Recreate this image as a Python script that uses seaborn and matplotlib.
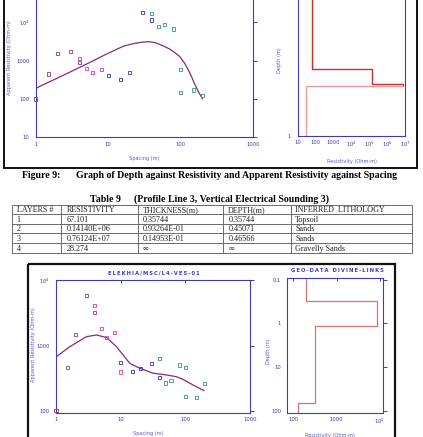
import numpy as np
import pandas as pd
import matplotlib
matplotlib.use("Agg")
import matplotlib.pyplot as plt
import seaborn as sns
from matplotlib.patches import Rectangle
from matplotlib.ticker import FixedLocator, FixedFormatter, LogLocator, NullFormatter

# ---------------- data ----------------
# Figure 9 (upper page figure): apparent resistivity vs spacing
top_spacing = [1, 1.5, 2, 3, 4, 4, 5, 6, 8, 10, 15, 20, 30, 40, 40, 50, 60, 80, 100, 100, 150, 200]
top_rho_app = [100, 450, 1500, 1700, 1150, 890, 630, 505, 605, 414, 330, 486,
               18000, 17200, 11500, 7700, 8900, 6700, 595, 150, 172, 127]
top_group = ['a', 'a', 'a', 'a', 'b', 'a', 'b', 'b', 'b', 'c', 'c', 'c',
             'c', 'd', 'c', 'd', 'd', 'd', 'd', 'd', 'd', 'd']
top_fit_spacing = [1, 2.67, 5.04, 9.49, 16.1, 22.0, 30.3, 37.3, 46.2, 57.1, 70.6, 82.6,
                   96.9, 113.5, 126, 140, 156, 173, 201]
top_fit_rho = [190, 458, 818, 1493, 2366, 2770, 3070, 3130, 2890, 2460, 2015, 1650,
               1297, 869, 606, 406, 250, 168, 100]

# Table 9 layered model
table_layers = ['1', '2', '3', '4']
table_resistivity = ['67.101', '0.14140E+06', '0.76124E+07', '28.274']
table_thickness = ['0.35744', '0.93264E-01', '0.14953E-01', '\u221e']
table_depth = ['0.35744', '0.45071', '0.46566', '\u221e']
table_lithology = ['Topsoil', 'Sands', 'Sands', 'Gravelly Sands']
model_rho = [67.101, 0.14140e6, 0.76124e7, 28.274]
model_depth = [0.35744, 0.45071, 0.46566]

# Lower page figure: ELEKHIA/MSC/L4-VES-01
bot_spacing = [1, 1.5, 2, 3, 4, 4, 5, 6, 8, 10, 10, 15, 20, 30, 40, 40, 50, 60, 80, 100, 100, 150, 200]
bot_rho_app = [100, 460, 1490, 5820, 4090, 3240, 1820, 1330, 1580, 556, 395, 400, 450, 537,
               632, 324, 268, 288, 506, 466, 168, 160, 265]
bot_group = ['a', 'a', 'a', 'a', 'b', 'a', 'b', 'b', 'b', 'c', 'b', 'c', 'c', 'c',
             'd', 'c', 'd', 'd', 'd', 'd', 'd', 'd', 'd']
bot_fit_spacing = [1, 1.64, 2.97, 4.24, 6.04, 8.6, 10.9, 13.8, 19.8, 31.8, 50.9, 72.3, 92, 131, 194]
bot_fit_rho = [671, 966, 1373, 1455, 1330, 966, 720, 537, 450, 378, 356, 335, 305, 250, 205]
bot_model_rho = [193, 8500, 317, 126]
bot_model_depth = [0.305, 1.13, 66]

# ---------------- styling ----------------
W, H = 423, 437
sns.set_theme(style="white")
plt.rcParams['font.family'] = ['DejaVu Sans']
BLUE = '#3a3ac8'
LBLUE = '#5a5ad0'
PAL = {'a': '#9a3a6a', 'b': '#e030d0', 'c': '#3030c0', 'd': '#2a9a7a'}
CURVE = '#8a2a70'
SERIF = ['Liberation Serif', 'DejaVu Serif']

fig = plt.figure(figsize=(W / 100, H / 100), dpi=100)
fig.patch.set_facecolor('white')
bg = fig.add_axes([0, 0, 1, 1])
bg.set_xlim(0, W)
bg.set_ylim(H, 0)
bg.axis('off')


def add_ax(l, t, r, b):
    ax = fig.add_axes([l / W, 1 - b / H, (r - l) / W, (b - t) / H])
    ax._px = (l, t, r, b)
    ax.set_facecolor('none')
    return ax


def style(ax, xlim, ylim, xt, xl, yt, yl, xlabel, ylabel, xlab_px, ylab_px, right_ticks=True):
    ax.set_xscale('log')
    ax.set_yscale('log')
    ax.set_xlim(*xlim)
    ax.set_ylim(*ylim)
    for s in ax.spines.values():
        s.set_color(BLUE)
        s.set_linewidth(0.8)
    ax.xaxis.set_major_locator(FixedLocator(xt))
    ax.xaxis.set_major_formatter(FixedFormatter(xl))
    ax.yaxis.set_major_locator(FixedLocator(yt))
    ax.yaxis.set_major_formatter(FixedFormatter(yl))
    ax.xaxis.set_minor_locator(LogLocator(base=10, subs=np.arange(2, 10), numticks=20))
    ax.yaxis.set_minor_locator(LogLocator(base=10, subs=np.arange(2, 10), numticks=20))
    ax.xaxis.set_minor_formatter(NullFormatter())
    ax.yaxis.set_minor_formatter(NullFormatter())
    ax.tick_params(axis='x', which='major', direction='in', length=2.5, width=0.7,
                   colors=BLUE, labelsize=3.8, pad=3, top=True)
    ax.tick_params(axis='x', which='minor', direction='in', length=1.5, width=0.5,
                   colors=BLUE, top=False)
    ax.tick_params(axis='y', which='major', direction='out', length=3, width=0.7,
                   colors=BLUE, labelsize=3.8, pad=1.5, right=right_ticks)
    ax.tick_params(axis='y', which='minor', direction='out', length=1.5, width=0.5,
                   colors=BLUE, right=False)
    ax.set_xlabel(xlabel, fontsize=3.6, color=LBLUE)
    ax.set_ylabel(ylabel, fontsize=3.6, color=LBLUE)
    l, t, r, b = ax._px
    ax.xaxis.set_label_coords((xlab_px[0] - l) / (r - l), (b - xlab_px[1]) / (b - t))
    ax.yaxis.set_label_coords((ylab_px[0] - l) / (r - l), (b - ylab_px[1]) / (b - t))
    ax.grid(False)


def field_plot(ax, sp, rho, grp, fsp, frho):
    df = pd.DataFrame({'spacing': sp, 'rho': rho, 'group': grp})
    sns.lineplot(x=fsp, y=frho, color=CURVE, lw=0.9, sort=False, estimator=None, ax=ax)
    sns.scatterplot(data=df, x='spacing', y='rho', hue='group', palette=PAL, marker='s',
                    s=5, linewidth=0.6, legend=False, ax=ax, clip_on=False, zorder=3)
    coll = ax.collections[-1]
    fcs = coll.get_facecolors()
    coll.set_edgecolors(fcs)
    coll.set_facecolors('none')


def model_plot(ax, rho, depth, colors, top=1e-3, bottom=1e4):
    xs = np.repeat(rho, 2)
    ys = np.concatenate([[top], np.repeat(depth, 2), [bottom]])
    if len(colors) == 1:
        sns.lineplot(x=xs, y=ys, color=colors[0], lw=0.9, sort=False, estimator=None, ax=ax)
    else:
        k = 2 * (len(rho) - 1)
        sns.lineplot(x=xs[:k], y=ys[:k], color=colors[0], lw=1.0, sort=False, estimator=None, ax=ax)
        sns.lineplot(x=xs[k - 1:], y=ys[k - 1:], color=colors[1], lw=1.0, sort=False,
                     estimator=None, ax=ax)


# ---------------- upper figure (Figure 9) ----------------
ax1 = add_ax(35.7, -16, 253, 137.4)
style(ax1, (1, 1000), (10, 1e5), [1, 10, 100, 1000], ['1', '10', '100', '1000'],
      [10, 100, 1000, 1e4], ['10', '100', '1000', '$10^4$'],
      'Spacing (m)', 'Apparent Resistivity (Ohm-m)', (144, 156), (12, 58))
field_plot(ax1, top_spacing, top_rho_app, top_group, top_fit_spacing, top_fit_rho)

ax2 = add_ax(297.5, -14, 405.3, 136)
style(ax2, (10, 1e7), (1, 0.1), [10, 100, 1000, 1e4, 1e5, 1e6, 1e7],
      ['10', '100', '1000', '$10^4$', '$10^5$', '$10^6$', '$10^7$'],
      [1], ['1'], 'Resistivity (Ohm-m)', 'Depth (m)', (352, 159), (282, 60),
      right_ticks=False)
model_plot(ax2, model_rho, model_depth, ['#d42a2a', '#ec9a9a'])

bg.add_patch(Rectangle((4, -10), 413, 178.3, fill=False, lw=1.4, ec='#111111'))
bg.text(22, 176, 'Figure 9:', family=SERIF, fontweight='bold', fontsize=7.1,
        va='center', ha='left', color='black')
bg.text(76, 176, 'Graph of Depth against Resistivity and Apparent Resistivity against Spacing',
        family=SERIF, fontweight='bold', fontsize=7.1, va='center', ha='left', color='black')

# ---------------- Table 9 ----------------
bg.text(90, 199, 'Table 9', family=SERIF, fontweight='bold', fontsize=7.1,
        va='center', ha='left', color='black')
bg.text(134.3, 199, '(Profile Line 3, Vertical Electrical Sounding 3)', family=SERIF,
        fontweight='bold', fontsize=7.1, va='center', ha='left', color='black')
row_lines = [205, 214.3, 223.7, 233.3, 243, 252.7]
col_lines = [11.7, 61, 137.7, 222.7, 291, 411.7]
bg.hlines(row_lines, col_lines[0], col_lines[-1], color='#6a6a6a', lw=0.7)
bg.vlines(col_lines, row_lines[0], row_lines[-1], color='#6a6a6a', lw=0.7)
header = ['LAYERS #', 'RESISTIVITY', 'THICKNESS(m)', 'DEPTH(m)', 'INFERRED  LITHOLOGY']
columns = [table_layers, table_resistivity, table_thickness, table_depth, table_lithology]
text_x = [16.7, 66.7, 143, 228.3, 295.3]
for j, (hx, col) in enumerate(zip(header, columns)):
    cells = [hx] + col
    for i, c in enumerate(cells):
        yb = row_lines[i + 1] - 2.0
        bg.text(text_x[j], yb, c, family=SERIF, fontsize=5.9, va='baseline', ha='left',
                color='#222222')

# ---------------- lower figure ----------------
bg.add_patch(Rectangle((27.7, 264.3), 367, 200, fill=False, lw=1.6, ec='#111111'))
bg.text(153.5, 273.3, '\u2009'.join('ELEKHIA/MSC/L4-VES-01'), color=BLUE, fontweight='bold',
        fontsize=3.8, ha='center', va='center')
bg.text(337.5, 270.3, '\u2009'.join('GEO-DATA DIVINE-LINKS'), color=BLUE, fontweight='bold',
        fontsize=3.8, ha='center', va='center')

ax3 = add_ax(56, 279.5, 250, 413.3)
style(ax3, (1, 1000), (92, 1.03e4), [1, 10, 100, 1000], ['1', '10', '100', '1000'],
      [100, 1000, 1e4], ['100', '1000', '$10^4$'],
      'Spacing (m)', 'Apparent Resistivity (Ohm-m)', (148, 431), (36, 345))
field_plot(ax3, bot_spacing, bot_rho_app, bot_group, bot_fit_spacing, bot_fit_rho)

ax4 = add_ax(287.3, 278.3, 383.3, 412.7)
style(ax4, (73, 1.2e4), (112, 0.092), [100, 1000, 1e4], ['100', '1000', '$10^4$'],
      [0.1, 1, 10, 100], ['0.1', '1', '10', '100'], 'Resistivity (Ohm-m)', 'Depth (m)',
      (330, 433), (271, 351))
model_plot(ax4, bot_model_rho, bot_model_depth, ['#e07070'])

fig.savefig('out.png', dpi=100, facecolor='white')
